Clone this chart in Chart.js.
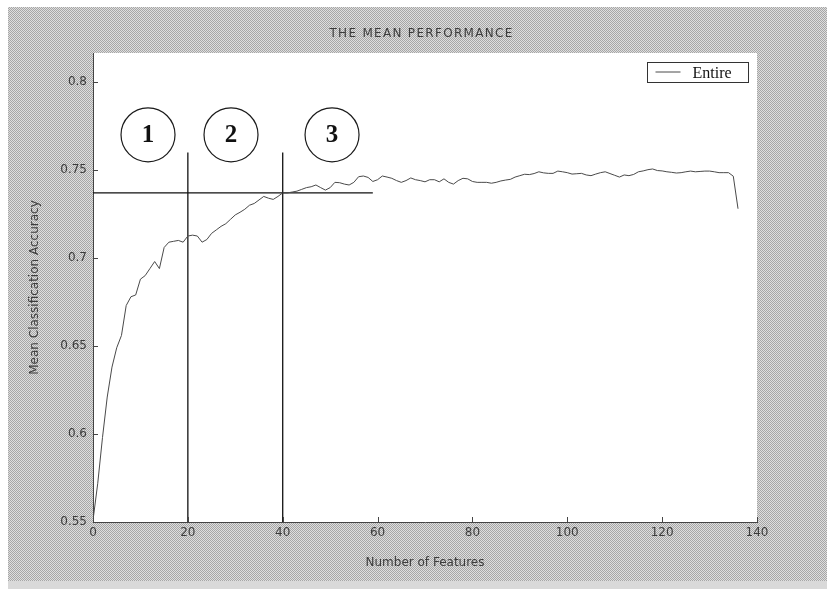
<!DOCTYPE html>
<html>
<head>
<meta charset="utf-8">
<title>The Mean Performance</title>
<script src="https://cdn.jsdelivr.net/npm/chart.js@4.4.1/dist/chart.umd.min.js"></script>
<style>
  html, body { margin: 0; padding: 0; background: #ffffff; }
  canvas { display: block; }
</style>
</head>
<body>
<canvas id="perf" width="827" height="589"></canvas>
<script>
// ---- text ----
const titleText = 'THE MEAN PERFORMANCE';
const xTitle = 'Number of Features';
const yTitle = 'Mean Classification Accuracy';
const seriesName = 'Entire';

// ---- mean accuracy per number of selected features ----
const features = [
  0, 1, 2, 3, 4, 5, 6, 7, 8, 9,
  10, 11, 12, 13, 14, 15, 16, 17, 18, 19,
  20, 21, 22, 23, 24, 25, 26, 27, 28, 29,
  30, 31, 32, 33, 34, 35, 36, 37, 38, 39,
  40, 41, 42, 43, 44, 45, 46, 47, 48, 49,
  50, 51, 52, 53, 54, 55, 56, 57, 58, 59,
  60, 61, 62, 63, 64, 65, 66, 67, 68, 69,
  70, 71, 72, 73, 74, 75, 76, 77, 78, 79,
  80, 81, 82, 83, 84, 85, 86, 87, 88, 89,
  90, 91, 92, 93, 94, 95, 96, 97, 98, 99,
  100, 101, 102, 103, 104, 105, 106, 107, 108, 109,
  110, 111, 112, 113, 114, 115, 116, 117, 118, 119,
  120, 121, 122, 123, 124, 125, 126, 127, 128, 129,
  130, 131, 132, 133, 134, 135, 136
];
const accuracy = [
  0.551, 0.572, 0.598, 0.621, 0.638, 0.649, 0.656, 0.673, 0.678, 0.679,
  0.688, 0.690, 0.694, 0.698, 0.694, 0.706, 0.709, 0.7095, 0.710, 0.709,
  0.7125, 0.713, 0.7125, 0.709, 0.7105, 0.714, 0.716, 0.718, 0.7195, 0.722,
  0.7245, 0.726, 0.7277, 0.730, 0.731, 0.733, 0.735, 0.734, 0.7333, 0.735,
  0.737, 0.737, 0.7375, 0.738, 0.739, 0.740, 0.7405, 0.7415, 0.740, 0.7386,
  0.740, 0.743, 0.7428, 0.742, 0.7415, 0.743, 0.7462, 0.7466, 0.7458, 0.7435,
  0.7445, 0.7466, 0.746, 0.7453, 0.744, 0.743, 0.744, 0.7455, 0.7445, 0.744,
  0.7433, 0.7445, 0.7445, 0.7433, 0.745, 0.743, 0.742, 0.744, 0.7453, 0.745,
  0.7435, 0.743, 0.743, 0.743, 0.7425, 0.743, 0.7438, 0.7443, 0.7447, 0.746,
  0.7468, 0.7476, 0.7474, 0.748, 0.749, 0.7484, 0.7481, 0.7481, 0.7494, 0.749,
  0.7485, 0.7477, 0.7479, 0.7481, 0.7472, 0.7468, 0.7477, 0.7485, 0.749, 0.748,
  0.747, 0.746, 0.7472, 0.7468, 0.7475, 0.749, 0.7495, 0.7502, 0.7506, 0.7497,
  0.7495, 0.749, 0.7487, 0.7483, 0.7485, 0.749, 0.7494, 0.749, 0.7492, 0.7494,
  0.7494, 0.749, 0.7485, 0.7485, 0.7485, 0.7465, 0.728
];

// ---- axis ticks ----
const xTicks = [0, 20, 40, 60, 80, 100, 120, 140];
const yTicks = [0.55, 0.6, 0.65, 0.7, 0.75, 0.8];
const yTickLabels = ['0.55', '0.6', '0.65', '0.7', '0.75', '0.8'];
const xRange = [0, 140];
const yRange = [0.55, 0.8165];

// ---- region markers ----
const dividerX = [20, 40];
const dividerTop = 0.76;
const thresholdY = 0.737;
const thresholdEnd = 59;
const regionX = [11.6, 29.1, 50.4];
const regionY = [0.770, 0.770, 0.770];
const regionLabels = ['1', '2', '3'];

// ---- styling ----
const sansFont = '"DejaVu Sans", "Liberation Sans", sans-serif';
const serifFont = '"Liberation Serif", "DejaVu Serif", serif';
const textColor = '#3c3c3c';
const axisColor = '#444444';
const curveColor = '#4a4a4a';

function ditherPattern(ctx) {
  const c = document.createElement('canvas');
  c.width = 2; c.height = 2;
  const g = c.getContext('2d');
  g.fillStyle = '#dedede'; g.fillRect(0, 0, 2, 2);
  g.fillStyle = '#a6a6a6'; g.fillRect(0, 0, 1, 1); g.fillRect(1, 1, 1, 1);
  return ctx.createPattern(c, 'repeat');
}

// grey figure panel with the white axes box
const figurePanel = {
  id: 'figurePanel',
  beforeDraw(chart) {
    const { ctx, width, height, chartArea: a } = chart;
    ctx.save();
    ctx.fillStyle = '#ffffff';
    ctx.fillRect(0, 0, width, height);
    ctx.fillStyle = ditherPattern(ctx);
    ctx.fillRect(8, 7, width - 8, 574);
    ctx.fillStyle = '#d9d9d9';
    ctx.fillRect(8, 581, width - 8, height - 581);
    ctx.fillStyle = '#ffffff';
    ctx.fillRect(a.left, a.top, a.right - a.left, a.bottom - a.top);
    ctx.restore();
  }
};

// inward tick marks, region numbers, legend and title
const annotations = {
  id: 'annotations',
  afterDatasetsDraw(chart) {
    const { ctx, chartArea: a, scales: { x, y } } = chart;
    ctx.save();
    ctx.strokeStyle = axisColor;
    ctx.lineWidth = 1;
    ctx.beginPath();
    yTicks.forEach(v => {
      const py = Math.round(y.getPixelForValue(v)) + 0.5;
      ctx.moveTo(a.left, py); ctx.lineTo(a.left + 5, py);
    });
    xTicks.forEach(v => {
      const px = Math.round(x.getPixelForValue(v)) + 0.5;
      ctx.moveTo(px, a.bottom); ctx.lineTo(px, a.bottom - 5);
    });
    ctx.stroke();

    // numbers inside the region circles
    const meta = chart.getDatasetMeta(3);
    ctx.fillStyle = '#111111';
    ctx.font = 'bold 25px ' + serifFont;
    ctx.textAlign = 'center';
    ctx.textBaseline = 'middle';
    meta.data.forEach((pt, i) => {
      ctx.fillText(regionLabels[i], pt.x, pt.y + 1);
    });

    // legend box in the upper right corner of the axes
    const bw = 101, bh = 20;
    const bx = Math.round(a.right - 9 - bw) + 0.5;
    const by = Math.round(a.top + 9) + 0.5;
    ctx.fillStyle = '#ffffff';
    ctx.fillRect(bx, by, bw, bh);
    ctx.strokeStyle = '#333333';
    ctx.strokeRect(bx, by, bw, bh);
    ctx.strokeStyle = curveColor;
    ctx.beginPath();
    ctx.moveTo(bx + 8, by + bh / 2 - 0.5);
    ctx.lineTo(bx + 33, by + bh / 2 - 0.5);
    ctx.stroke();
    ctx.fillStyle = '#111111';
    ctx.font = '16px ' + serifFont;
    ctx.textAlign = 'left';
    ctx.textBaseline = 'middle';
    ctx.fillText(chart.data.datasets[0].label, bx + 45, by + bh / 2 + 1);

    // figure title
    ctx.font = '12px ' + sansFont;
    if ('letterSpacing' in ctx) ctx.letterSpacing = '1.3px';
    const tw = ctx.measureText(titleText).width;
    ctx.fillStyle = textColor;
    ctx.textAlign = 'left';
    ctx.fillText(titleText, 421.5 - tw / 2, 34);
    ctx.restore();
  }
};

const curveData = features.map((f, i) => ({ x: f, y: accuracy[i] }));
const dividerData = dividerX.map(v => [{ x: v, y: yRange[0] }, { x: v, y: dividerTop }]);
const thresholdData = [{ x: xRange[0], y: thresholdY }, { x: thresholdEnd, y: thresholdY }];
const regionData = regionX.map((v, i) => ({ x: v, y: regionY[i] }));

const refLine = data => ({
  type: 'line',
  data,
  borderColor: '#111111',
  borderWidth: 1.3,
  pointRadius: 0,
  fill: false
});

new Chart(document.getElementById('perf'), {
  type: 'line',
  data: {
    datasets: [
      {
        label: seriesName,
        data: curveData,
        borderColor: curveColor,
        borderWidth: 1,
        pointRadius: 0,
        tension: 0,
        fill: false
      },
      refLine(dividerData[0]),
      refLine(dividerData[1]),
      {
        type: 'scatter',
        data: regionData,
        pointStyle: 'circle',
        pointRadius: 27,
        pointBorderColor: '#1a1a1a',
        pointBorderWidth: 1.2,
        pointBackgroundColor: 'rgba(255,255,255,0)',
        showLine: false
      },
      refLine(thresholdData)
    ]
  },
  options: {
    responsive: false,
    animation: false,
    devicePixelRatio: 1,
    events: [],
    layout: { padding: { top: 53, right: 70, bottom: 0, left: 0 } },
    plugins: {
      legend: { display: false },
      title: { display: false },
      tooltip: { enabled: false }
    },
    scales: {
      x: {
        type: 'linear',
        min: xRange[0],
        max: xRange[1],
        afterFit(s) { s.height = 67; },
        afterBuildTicks(s) { s.ticks = xTicks.map(v => ({ value: v })); },
        grid: { display: false, drawTicks: false },
        border: { display: true, color: axisColor, width: 1 },
        ticks: {
          padding: 4,
          color: textColor,
          font: { family: sansFont, size: 12 },
          maxRotation: 0,
          autoSkip: false,
          callback: v => String(v)
        },
        title: {
          display: true,
          text: xTitle,
          color: textColor,
          font: { family: sansFont, size: 12 },
          padding: { top: 0, bottom: 19 }
        }
      },
      y: {
        type: 'linear',
        min: yRange[0],
        max: yRange[1],
        afterFit(s) { s.width = 93; },
        afterBuildTicks(s) { s.ticks = yTicks.map(v => ({ value: v })); },
        grid: { display: false, drawTicks: false },
        border: { display: true, color: axisColor, width: 1 },
        ticks: {
          padding: 6,
          color: textColor,
          font: { family: sansFont, size: 12 },
          autoSkip: false,
          callback: (v, i) => yTickLabels[i]
        },
        title: {
          display: true,
          text: yTitle,
          color: textColor,
          font: { family: sansFont, size: 12 },
          padding: { top: 28, bottom: 0 }
        }
      }
    }
  },
  plugins: [figurePanel, annotations]
});
</script>
</body>
</html>
